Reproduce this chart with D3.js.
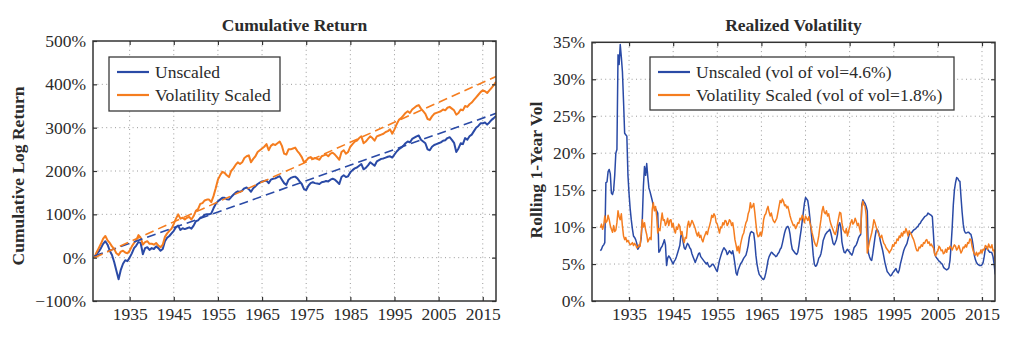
<!DOCTYPE html>
<html><head><meta charset="utf-8">
<script src="https://cdn.jsdelivr.net/npm/d3@7"></script>
<style>
body{margin:0;background:#fff}
text{font-family:"Liberation Serif","Times New Roman",serif;fill:#2b2b2b}
</style>
</head><body>
<svg id="c" width="1024" height="337"></svg>
<script>
// ---------- DATA ----------
// Cumulative log return (%), semi-annual from 1927.0 to 2018.0
const cumStart = 1927, cumStep = 0.5;
const cumUnscaled = [
  0, 8, 14, 22, 32, 38,
  30, 16, 6, -10, -30, -50, -28, -14, -6, -8, 0, 10, 22, 28, 36, 34, 8, 22, 24, 18,
  22, 20, 26, 22, 16, 20, 38, 46, 50, 56, 62, 70, 74, 64, 68, 66, 68, 70, 67, 74,
  84, 86, 92, 94, 99, 100, 100, 102, 114, 124, 130, 134, 138, 138, 135, 134, 140, 145, 150, 153,
  152, 155, 160, 162, 158, 152, 160, 165, 170, 173, 176, 177, 178, 172, 180, 182, 183, 186, 188, 180,
  172, 168, 180, 184, 186, 187, 183, 176, 170, 158, 156, 166, 172, 174, 172, 171, 170, 174, 175, 177,
  176, 180, 182, 180, 175, 170, 186, 190, 186, 188, 197, 202, 206, 208, 212, 216, 204, 207, 213, 220,
  216, 212, 222, 225, 228, 229, 231, 233, 234, 231, 238, 245, 250, 254, 258, 264, 268, 266, 274, 277,
  280, 282, 272, 268, 264, 250, 248, 256, 260, 262, 264, 266, 270, 271, 276, 278, 272, 265, 244, 252,
  264, 262, 276, 272, 280, 284, 292, 300, 304, 310, 310, 312, 307, 312, 318, 322,
  327
];
const cumScaled = [
  0, 12, 22, 32, 44, 50,
  40, 34, 26, 20, 10, 6, 14, 16, 12, 10, 16, 26, 34, 40, 52, 46, 30, 36, 38, 32,
  32, 30, 34, 28, 24, 30, 48, 56, 62, 67, 78, 90, 100, 90, 92, 88, 92, 94, 88, 96,
  108, 112, 124, 126, 132, 134, 134, 128, 142, 160, 180, 190, 198, 196, 190, 186, 200, 206, 214, 220,
  216, 220, 230, 234, 236, 220, 228, 234, 244, 248, 252, 256, 262, 248, 258, 262, 260, 264, 268, 258,
  240, 238, 250, 250, 252, 254, 246, 240, 232, 220, 224, 230, 232, 228, 230, 228, 226, 234, 236, 238,
  234, 240, 242, 238, 232, 226, 244, 248, 240, 244, 256, 262, 268, 270, 276, 280, 264, 268, 274, 280,
  276, 270, 280, 282, 284, 286, 290, 292, 296, 286, 296, 308, 318, 322, 328, 334, 338, 334, 342, 346,
  350, 352, 344, 338, 332, 320, 318, 326, 332, 334, 336, 338, 342, 340, 346, 348, 344, 340, 330, 334,
  342, 340, 350, 348, 354, 358, 364, 370, 376, 382, 386, 384, 380, 386, 392, 398,
  406
];
// Trend (dashed) lines: endpoints
const trendYears = [1927, 2018];
const trendUnscaled = [4, 333];
const trendScaled = [0, 418];

// Rolling 1-year vol (%), quarterly from 1928.5 to 2018.0
const volStart = 1928.5, volStep = 0.25;
const volUnscaled = [
  6.8, 7.0, 7.4, 7.6, 7.9, 16.0,
  16.1, 17.5, 17.8, 17.2, 14.6, 14.4, 15.0, 17.0, 20.0, 20.5, 33.3, 32.0, 34.7, 33.0, 31.0, 27.0, 22.7, 22.5, 22.3, 17.0,
  14.5, 12.5, 11.0, 9.8, 8.8, 8.6, 8.3, 7.8, 7.0, 7.3, 7.6, 8.5, 11.0, 15.5, 18.2, 17.0, 18.6, 16.8, 15.3, 14.8,
  14.2, 13.6, 12.8, 12.6, 12.5, 12.2, 11.9, 6.6, 6.8, 7.2, 7.4, 7.8, 8.3, 7.6, 4.8, 5.8, 6.1, 5.9, 5.6, 5.3,
  5.0, 5.4, 5.6, 6.0, 6.5, 7.0, 7.5, 8.8, 9.2, 8.0, 7.2, 7.0, 7.4, 7.8, 7.6, 7.2, 7.0, 6.4, 6.0, 5.6,
  5.2, 5.6, 6.0, 6.4, 6.5, 6.0, 5.8, 5.6, 5.4, 5.2, 5.0, 5.2, 4.8, 4.6, 4.7, 4.9, 5.0, 4.8, 4.5, 4.2,
  4.0, 4.8, 5.5, 6.0, 6.5, 6.9, 7.2, 7.0, 6.8, 6.3, 6.5, 6.8, 6.6, 6.4, 6.8, 6.0, 5.0, 3.8, 3.5, 4.2,
  4.6, 5.0, 5.2, 5.5, 5.8, 6.0, 6.2, 6.8, 7.5, 8.6, 9.2, 9.4, 9.3, 9.2, 8.0, 6.2, 5.0, 4.2, 3.6, 3.4,
  3.2, 3.0, 2.9, 3.2, 3.8, 4.6, 5.5, 6.0, 6.3, 6.6, 6.5, 6.3, 6.2, 6.0, 6.1, 6.4, 6.6, 7.0, 7.2, 7.8,
  8.5, 9.2, 9.7, 10.0, 10.1, 9.8, 9.0, 7.8, 7.0, 6.8, 6.6, 6.4, 6.3, 6.6, 7.5, 8.6, 9.6, 10.8, 12.0, 13.2,
  14.0, 13.8, 13.6, 12.6, 11.2, 9.6, 8.0, 6.2, 5.0, 4.7, 4.8, 5.2, 5.8, 6.0, 6.4, 7.2, 8.2, 8.6, 9.0, 9.2,
  9.4, 9.5, 9.7, 9.2, 8.5, 7.8, 7.6, 7.9, 8.3, 9.0, 10.2, 10.6, 10.0, 8.0, 7.2, 6.6, 6.5, 6.8, 7.0, 6.8,
  6.6, 6.4, 6.2, 6.6, 7.2, 7.4, 7.6, 8.0, 8.5, 8.8, 9.0, 13.0, 13.7, 13.4, 13.2, 12.8, 12.2, 6.5, 6.0, 5.6,
  5.5, 6.4, 7.5, 8.6, 9.5, 9.7, 9.4, 8.8, 8.0, 7.4, 6.8, 6.0, 5.2, 4.6, 4.0, 3.8, 3.6, 3.4, 3.5, 3.8,
  4.0, 4.2, 4.4, 4.0, 3.8, 4.2, 5.0, 5.6, 6.2, 6.8, 7.2, 7.5, 7.8, 8.4, 9.0, 9.2, 9.2, 9.4, 9.6, 9.7,
  9.8, 10.0, 10.1, 10.4, 10.5, 10.8, 11.0, 11.2, 11.4, 11.5, 11.6, 11.9, 11.8, 11.7, 11.6, 11.4, 9.0, 6.5, 6.0, 5.8,
  5.6, 5.4, 5.3, 5.1, 5.0, 4.6, 4.4, 4.3, 4.2, 4.3, 4.5, 5.5, 7.5, 10.0, 13.0, 15.0, 16.0, 16.7, 16.6, 16.3,
  16.2, 14.0, 12.0, 10.4, 9.5, 9.2, 9.2, 9.3, 9.3, 9.1, 9.0, 8.4, 7.5, 6.2, 5.6, 5.2,
  5.0, 4.9, 4.8, 4.8, 4.9, 5.2, 6.0, 7.0, 7.2, 7.0, 6.8, 6.6, 6.6, 6.5, 6.0, 5.0,
  3.6
];
const volScaled = [
  9.9, 10.4, 9.7, 10.2, 11.5, 10.6,
  10.8, 11.6, 11.0, 10.2, 9.7, 9.3, 10.2, 9.4, 9.6, 10.6, 12.2, 11.4, 11.0, 11.8, 10.1, 8.8, 8.3, 8.6, 8.0, 8.2,
  7.9, 7.6, 7.7, 7.9, 7.5, 7.8, 7.6, 7.2, 7.3, 7.6, 7.4, 9.0, 11.0, 10.0, 10.6, 9.6, 9.0, 8.0, 8.3, 8.6,
  8.3, 12.4, 13.3, 12.2, 12.8, 11.5, 9.2, 9.8, 9.5, 10.8, 11.9, 10.9, 11.0, 10.2, 10.6, 11.2, 10.2, 10.9, 11.0, 10.0,
  10.5, 9.6, 9.2, 10.0, 9.7, 10.4, 10.1, 9.0, 9.4, 8.4, 7.9, 8.6, 8.5, 10.2, 10.8, 10.0, 10.4, 10.9, 10.6, 10.2,
  9.8, 9.2, 8.8, 9.3, 8.6, 8.9, 8.3, 8.0, 8.6, 9.0, 9.4, 9.0, 9.7, 10.2, 10.8, 11.6, 11.3, 11.8, 11.5, 10.6,
  10.4, 9.8, 9.2, 10.0, 9.9, 10.6, 10.3, 10.9, 10.8, 10.2, 10.5, 11.0, 10.8, 10.2, 10.6, 9.6, 8.3, 7.6, 6.8, 7.4,
  6.5, 7.6, 8.3, 8.9, 9.2, 10.0, 10.6, 10.9, 11.8, 12.2, 13.3, 12.6, 12.8, 13.2, 12.0, 10.5, 9.2, 8.7, 8.8, 9.3,
  8.8, 9.6, 11.0, 11.6, 11.8, 12.4, 12.8, 12.0, 11.5, 11.9, 11.2, 10.8, 10.6, 10.9, 11.2, 12.0, 12.8, 13.6, 13.3, 13.8,
  13.5, 12.9, 13.0, 12.6, 12.8, 12.2, 11.5, 11.0, 10.6, 10.2, 10.3, 9.8, 10.1, 10.6, 10.5, 11.2, 11.0, 11.6, 11.2, 10.6,
  11.5, 11.2, 10.9, 11.4, 10.6, 10.0, 9.2, 8.6, 8.0, 7.6, 7.4, 8.0, 8.8, 10.0, 11.0, 12.2, 12.8, 12.0, 11.8, 12.2,
  11.5, 11.8, 11.0, 10.4, 10.0, 9.6, 9.2, 9.0, 9.5, 10.4, 11.2, 12.0, 11.9, 10.6, 9.7, 9.4, 9.2, 9.8, 8.8, 9.4,
  10.0, 10.6, 11.0, 10.4, 10.6, 11.2, 10.8, 10.2, 10.5, 9.8, 9.2, 12.6, 13.5, 13.0, 12.8, 11.6, 6.5, 7.2, 8.0, 8.6,
  9.2, 10.0, 11.0, 10.6, 10.0, 9.6, 9.2, 8.8, 8.6, 8.9, 8.3, 7.8, 7.6, 7.2, 7.0, 6.8, 6.5, 6.8, 7.0, 7.6,
  7.4, 7.9, 7.8, 8.4, 8.2, 8.8, 8.6, 9.2, 8.8, 9.4, 9.2, 9.8, 9.4, 8.8, 9.5, 9.2, 9.0, 8.6, 8.3, 7.8,
  7.2, 6.8, 6.8, 7.3, 7.2, 7.6, 7.4, 7.9, 7.8, 8.2, 8.3, 7.8, 8.0, 7.5, 7.7, 7.4, 7.2, 6.4, 6.1, 6.6,
  6.8, 7.4, 7.2, 6.8, 6.9, 6.4, 6.5, 7.0, 6.6, 7.2, 7.0, 7.4, 7.2, 6.9, 7.3, 7.6, 7.4, 6.9, 7.1, 7.5,
  7.0, 6.5, 6.8, 7.3, 7.2, 7.6, 7.3, 7.9, 7.8, 8.4, 8.3, 7.4, 6.8, 6.4, 6.2, 6.6,
  6.1, 6.5, 6.4, 6.9, 6.5, 7.0, 6.9, 7.5, 7.4, 7.0, 7.7, 7.3, 7.2, 7.6, 6.8, 6.9,
  5.4
];

const xTicks = [1935, 1945, 1955, 1965, 1975, 1985, 1995, 2005, 2015];
const cumTicks = [-100, 0, 100, 200, 300, 400, 500];
const volTicks = [0, 5, 10, 15, 20, 25, 30, 35];
const legendCum = ["Unscaled", "Volatility Scaled"];
const legendVol = ["Unscaled (vol of vol=4.6%)", "Volatility Scaled (vol of vol=1.8%)"];
const colors = ["#2a4aa6", "#f57d1f"];

// ---------- DRAW ----------
const svg = d3.select("#c");
const FS = 17.5;

function fmtPct(d) { return (d < 0 ? "\u2212" + Math.abs(d) : d) + "%"; }

function panel(cfg) {
  const g = svg.append("g");
  const x = d3.scaleLinear().domain(cfg.xDomain).range([cfg.x0, cfg.x1]);
  const y = d3.scaleLinear().domain(cfg.yDomain).range([cfg.y1, cfg.y0]);

  // grid
  const grid = g.append("g").attr("stroke", "#9a9a9a").attr("stroke-width", 1).attr("stroke-dasharray", "1,3.4");
  grid.selectAll(".gx").data(xTicks).join("line")
    .attr("x1", d => x(d)).attr("x2", d => x(d)).attr("y1", cfg.y0).attr("y2", cfg.y1);
  grid.selectAll(".gy").data(cfg.yTicks.slice(1, -1)).join("line")
    .attr("y1", d => y(d)).attr("y2", d => y(d)).attr("x1", cfg.x0).attr("x2", cfg.x1);

  const clip = "clip" + cfg.id;
  svg.append("clipPath").attr("id", clip).append("rect")
    .attr("x", cfg.x0).attr("y", cfg.y0).attr("width", cfg.x1 - cfg.x0).attr("height", cfg.y1 - cfg.y0);

  const lines = g.append("g").attr("clip-path", `url(#${clip})`);
  cfg.series.forEach((s, k) => {
    const line = d3.line().x((d, i) => x(s.start + i * s.step)).y(d => y(d));
    lines.append("path").datum(s.values).attr("fill", "none").attr("stroke", colors[s.c])
      .attr("stroke-width", cfg.lw).attr("stroke-linejoin", "round").attr("d", line);
  });
  (cfg.trends || []).forEach(t => {
    const line = d3.line().x((d, i) => x(trendYears[i])).y(d => y(d));
    lines.append("path").datum(t.values).attr("fill", "none").attr("stroke", colors[t.c])
      .attr("stroke-width", 1.6).attr("stroke-dasharray", "9,5").attr("d", line);
  });

  // axes
  const styleAxis = (sel, labels) => {
    sel.select(".domain").remove();
    sel.selectAll(".tick line").attr("stroke", "#333").attr("stroke-width", 1.2);
    sel.selectAll(".tick text").attr("font-size", FS).attr("font-family", "Liberation Serif, serif").attr("fill", "#2b2b2b");
    if (!labels) sel.selectAll(".tick text").remove();
  };
  g.append("g").attr("transform", `translate(0,${cfg.y1})`)
    .call(d3.axisBottom(x).tickValues(xTicks).tickSize(-4).tickPadding(6.5).tickFormat(d3.format("d")))
    .call(s => styleAxis(s, true));
  g.append("g").attr("transform", `translate(0,${cfg.y0})`)
    .call(d3.axisTop(x).tickValues(xTicks).tickSize(-4)).call(s => styleAxis(s, false));
  g.append("g").attr("transform", `translate(${cfg.x0},0)`)
    .call(d3.axisLeft(y).tickValues(cfg.yTicks).tickSize(-4).tickPadding(7).tickFormat(fmtPct))
    .call(s => styleAxis(s, true));
  g.append("g").attr("transform", `translate(${cfg.x1},0)`)
    .call(d3.axisRight(y).tickValues(cfg.yTicks).tickSize(-4)).call(s => styleAxis(s, false));

  // frame
  g.append("rect").attr("x", cfg.x0).attr("y", cfg.y0).attr("width", cfg.x1 - cfg.x0).attr("height", cfg.y1 - cfg.y0)
    .attr("fill", "none").attr("stroke", "#333").attr("stroke-width", 1.5);

  // title
  g.append("text").attr("x", (cfg.x0 + cfg.x1) / 2).attr("y", 30.5).attr("text-anchor", "middle")
    .attr("font-size", FS).attr("font-weight", "bold").text(cfg.title);
  // y label
  g.append("text").attr("transform", `translate(${cfg.ylx},${cfg.yly}) rotate(-90)`).attr("text-anchor", "middle")
    .attr("font-size", FS).attr("font-weight", "bold").text(cfg.ylabel);

  // legend
  const L = cfg.legend;
  const lg = g.append("g");
  lg.append("rect").attr("x", L.x).attr("y", L.y).attr("width", L.w).attr("height", L.h)
    .attr("fill", "#fff").attr("stroke", "#3a3a3a").attr("stroke-width", 1.3);
  L.labels.forEach((t, i) => {
    const yy = L.y + 15 + i * 23;
    lg.append("line").attr("x1", L.x + 8).attr("x2", L.x + 40).attr("y1", yy).attr("y2", yy)
      .attr("stroke", colors[i]).attr("stroke-width", 2.2);
    lg.append("text").attr("x", L.x + 46).attr("y", yy + 6.3).attr("font-size", FS).text(t);
  });
}

panel({
  id: "a", x0: 93, x1: 496, y0: 41, y1: 301,
  xDomain: [1926.7, 2018.0], yDomain: [-100, 500], yTicks: cumTicks,
  lw: 2,
  series: [
    { values: cumUnscaled, start: cumStart, step: cumStep, c: 0 },
    { values: cumScaled, start: cumStart, step: cumStep, c: 1 }
  ],
  trends: [{ values: trendUnscaled, c: 0 }, { values: trendScaled, c: 1 }],
  title: "Cumulative Return", ylabel: "Cumulative Log Return", ylx: 23.5, yly: 176,
  legend: { x: 109, y: 57, w: 171, h: 54, labels: legendCum }
});

panel({
  id: "b", x0: 592, x1: 995, y0: 42.3, y1: 301,
  xDomain: [1926.6, 2017.95], yDomain: [0, 35], yTicks: volTicks,
  lw: 1.5,
  series: [
    { values: volUnscaled, start: volStart, step: volStep, c: 0 },
    { values: volScaled, start: volStart, step: volStep, c: 1 }
  ],
  title: "Realized Volatility", ylabel: "Rolling 1-Year Vol", ylx: 542, yly: 170,
  legend: { x: 650, y: 57, w: 304, h: 53, labels: legendVol }
});
</script>
</body></html>
